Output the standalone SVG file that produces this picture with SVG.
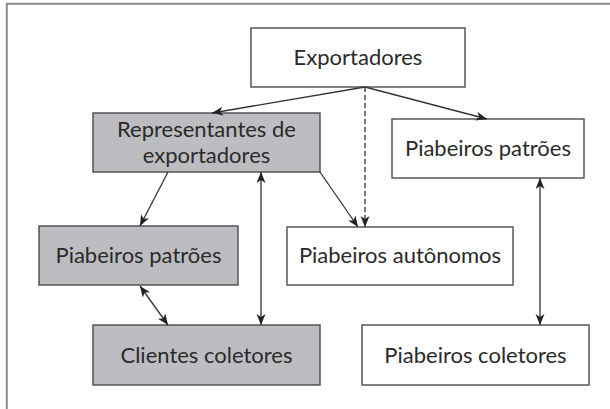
<svg xmlns="http://www.w3.org/2000/svg" width="610" height="409" viewBox="0 0 610 409">
<style>
.box{stroke:#4a4a4a;stroke-width:1.4;fill:#ffffff}
.grey{fill:#bdbdc1}
.lbl{font-family:"Lato","Liberation Sans",sans-serif;font-size:22px;fill:#2a2a2a;text-anchor:middle}
.con{stroke:#333;stroke-width:1.3;fill:none}
.dash{stroke-dasharray:5 3}
</style>
<defs>
<marker id="ah" markerUnits="userSpaceOnUse" markerWidth="12" markerHeight="10" refX="11" refY="4.5" orient="auto-start-reverse">
<path d="M0,0 L11,4.5 L0,9 L3,4.5 z" fill="#222"/>
</marker>
</defs>
<rect x="0" y="0" width="610" height="409" fill="#ffffff"/>
<path d="M6.8,409 V3.7 H610" fill="none" stroke="#8a8a8a" stroke-width="2"/>
<g id="n-exportadores">
<rect class="box" x="251" y="28" width="214" height="59"/>
<text class="lbl" x="358" y="65">Exportadores</text>
</g>
<g id="n-representantes">
<rect class="box grey" x="93" y="113" width="227" height="59"/>
<text class="lbl" x="206.5" y="136.5">Representantes de</text>
<text class="lbl" x="206.5" y="163">exportadores</text>
</g>
<g id="n-patroes-direita">
<rect class="box" x="392" y="119" width="192" height="59"/>
<text class="lbl" x="488" y="156">Piabeiros patrões</text>
</g>
<g id="n-patroes-esquerda">
<rect class="box grey" x="39" y="226" width="199" height="59"/>
<text class="lbl" x="138.5" y="263">Piabeiros patrões</text>
</g>
<g id="n-autonomos">
<rect class="box" x="287" y="227" width="226" height="58"/>
<text class="lbl" x="400" y="263">Piabeiros autônomos</text>
</g>
<g id="n-clientes">
<rect class="box grey" x="93" y="325" width="227" height="60"/>
<text class="lbl" x="206.5" y="363">Clientes coletores</text>
</g>
<g id="n-coletores">
<rect class="box" x="362" y="325" width="227" height="60"/>
<text class="lbl" x="475.5" y="363">Piabeiros coletores</text>
</g>
<g id="connectors">
<line class="con" x1="365" y1="87" x2="212" y2="113" marker-end="url(#ah)"/>
<line class="con" x1="365" y1="87" x2="487" y2="119" marker-end="url(#ah)"/>
<line class="con dash" x1="365" y1="87" x2="365" y2="227" marker-end="url(#ah)"/>
<line class="con" x1="168" y1="172" x2="140" y2="226" marker-end="url(#ah)"/>
<line class="con" x1="320" y1="172" x2="358" y2="227" marker-end="url(#ah)"/>
<line class="con" x1="261" y1="172" x2="261" y2="325" marker-start="url(#ah)" marker-end="url(#ah)"/>
<line class="con" x1="140" y1="286" x2="168" y2="325" marker-start="url(#ah)" marker-end="url(#ah)"/>
<line class="con" x1="540" y1="178" x2="540" y2="325" marker-start="url(#ah)" marker-end="url(#ah)"/>
</g>
</svg>
